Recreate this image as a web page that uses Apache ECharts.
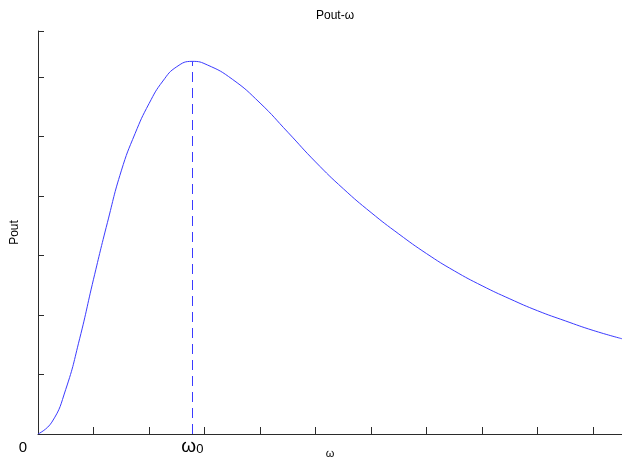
<!DOCTYPE html>
<html>
<head>
<meta charset="utf-8">
<script src="https://cdn.jsdelivr.net/npm/echarts@6/dist/echarts.min.js"></script>
<style>
	html, body { margin: 0; padding: 0; background: #fff; }
	#chart { width: 622px; height: 457px; }
</style>
</head>
<body>
<div id="chart"></div>
<script>
// omega, in tick units
var omegaValues = [0, 0.25, 0.5, 0.75, 1.0, 1.25, 1.5, 1.75, 2.0, 2.25, 2.5, 2.78,
	3.05, 3.5, 4.0, 4.5, 5.0, 5.5, 6.0, 6.5, 7.0, 7.5, 8.0, 8.5, 9.0, 9.5, 10.0, 10.52];
// Pout, in tick units
var poutValues = [0, 0.2, 0.75, 1.6, 2.6, 3.55, 4.42, 5.05, 5.55, 5.93, 6.17, 6.26,
	6.2, 5.96, 5.56, 5.07, 4.57, 4.12, 3.72, 3.36, 3.03, 2.74, 2.49, 2.27, 2.07, 1.9, 1.74, 1.6];
var originLabel = '0';

var lineColor = '#3b3bff';
var axisColor = '#2b2b2b';
var font = 'Liberation Sans, Arial, sans-serif';

var points = omegaValues.map(function (w, i) { return [w, poutValues[i]]; });
var peak = 0;
for (var i = 1; i < poutValues.length; i++) {
	if (poutValues[i] > poutValues[peak]) peak = i;
}

var myChart = echarts.init(document.getElementById('chart'));
var option = {
	animation: false,
	title: {
		text: 'Pout-ω',
		left: 330,
		top: 5,
		textAlign: 'center',
		textStyle: { color: '#000', fontSize: 12, fontWeight: 'normal', fontFamily: font }
	},
	grid: { left: 38, right: 0, top: 31, bottom: 23, containLabel: false, outerBoundsMode: 'none' },
	xAxis: {
		type: 'value',
		min: 0,
		max: 10.52,
		interval: 1,
		name: 'ω',
		nameLocation: 'middle',
		nameGap: 14,
		nameMoveOverlap: false,
		nameTextStyle: { color: '#000', fontSize: 11, fontFamily: font },
		axisLine: { lineStyle: { color: axisColor, width: 1 } },
		axisTick: { inside: true, length: 7, lineStyle: { color: axisColor } },
		splitLine: { show: false },
		axisLabel: {
			showMaxLabel: false,
			margin: 6,
			align: 'right',
			padding: [0, 11, 0, 0],
			color: '#000',
			fontSize: 15,
			fontFamily: font,
			formatter: function (v) { return v === 0 ? originLabel : ''; }
		}
	},
	yAxis: {
		type: 'value',
		min: 0,
		max: 6.77,
		interval: 1,
		name: 'Pout',
		nameLocation: 'middle',
		nameGap: 17,
		nameTextStyle: { color: '#000', fontSize: 12, fontFamily: font },
		axisLine: { show: true, lineStyle: { color: axisColor, width: 1 } },
		axisTick: { show: true, inside: true, length: 6, lineStyle: { color: axisColor } },
		splitLine: { show: false },
		axisLabel: { show: false }
	},
	series: [{
		type: 'line',
		data: points,
		smooth: 0.5,
		showSymbol: false,
		lineStyle: { color: lineColor, width: 1 },
		markLine: {
			silent: true,
			symbol: ['none', 'none'],
			lineStyle: { color: lineColor, type: [10, 6], width: 1 },
			label: {
				show: true,
				position: 'start',
				distance: 3,
				formatter: '{w|ω}{s|0}',
				rich: {
					w: { fontSize: 19, color: '#000', fontFamily: font },
					s: { fontSize: 13, color: '#000', fontFamily: font, padding: [6, 0, 0, 0] }
				}
			},
			data: [[
				{ coord: [omegaValues[peak], 0] },
				{ coord: [omegaValues[peak], poutValues[peak]] }
			]]
		}
	}]
};
myChart.setOption(option);
window.addEventListener('resize', myChart.resize);
</script>
</body>
</html>
